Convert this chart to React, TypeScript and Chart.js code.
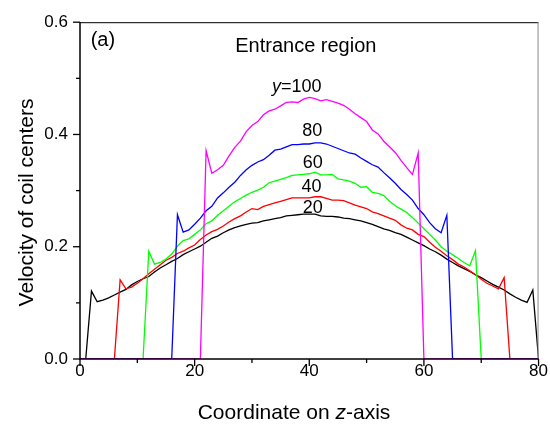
import { useEffect, useRef } from 'react';
import { Chart, registerables } from 'chart.js';

Chart.register(...registerables);

const FONT = '"Liberation Sans", Arial, Helvetica, sans-serif';

// Coordinate on the z-axis (sampling positions)
const Z = [
  0, 1, 2, 3, 4, 5, 6, 7, 8, 9,
  10, 11, 12, 13, 14, 15, 16, 17, 18, 19,
  20, 21, 22, 23, 24, 25, 26, 27, 28, 29,
  30, 31, 32, 33, 34, 35, 36, 37, 38, 39,
  40, 41, 42, 43, 44, 45, 46, 47, 48, 49,
  50, 51, 52, 53, 54, 55, 56, 57, 58, 59,
  60, 61, 62, 63, 64, 65, 66, 67, 68, 69,
  70, 71, 72, 73, 74, 75, 76, 77, 78, 79,
  80,
];

// Velocity of coil centers for each channel position y
const V_Y20 = [
  0, 0, 0.121, 0.102, 0.105, 0.109, 0.114, 0.119, 0.124, 0.132,
  0.138, 0.143, 0.147, 0.155, 0.162, 0.168, 0.174, 0.179, 0.186, 0.191,
  0.196, 0.201, 0.208, 0.215, 0.219, 0.225, 0.230, 0.234, 0.237, 0.240,
  0.242, 0.243, 0.246, 0.248, 0.250, 0.252, 0.255, 0.256, 0.257, 0.258,
  0.258, 0.258, 0.255, 0.254, 0.254, 0.253, 0.251, 0.250, 0.248, 0.246,
  0.243, 0.240, 0.236, 0.232, 0.229, 0.225, 0.222, 0.217, 0.212, 0.207,
  0.202, 0.196, 0.191, 0.185, 0.178, 0.172, 0.166, 0.161, 0.156, 0.150,
  0.145, 0.139, 0.133, 0.128, 0.123, 0.116, 0.110, 0.105, 0.101, 0.123,
  0,
];

const V_Y40 = [
  0, 0, 0, 0, 0, 0, 0, 0.141, 0.125, 0.128,
  0.135, 0.143, 0.152, 0.160, 0.168, 0.176, 0.181, 0.188, 0.192, 0.198,
  0.203, 0.213, 0.221, 0.227, 0.231, 0.237, 0.244, 0.250, 0.255, 0.262,
  0.268, 0.266, 0.272, 0.275, 0.278, 0.281, 0.284, 0.287, 0.287, 0.287,
  0.287, 0.289, 0.289, 0.286, 0.283, 0.283, 0.282, 0.278, 0.274, 0.271,
  0.268, 0.262, 0.259, 0.255, 0.251, 0.247, 0.239, 0.233, 0.230, 0.222,
  0.218, 0.208, 0.199, 0.192, 0.184, 0.177, 0.169, 0.164, 0.157, 0.150,
  0.142, 0.135, 0.130, 0.125, 0.145, 0, 0, 0, 0, 0,
  0,
];

const V_Y60 = [
  0, 0, 0, 0, 0, 0, 0, 0, 0, 0,
  0, 0, 0.192, 0.169, 0.172, 0.178, 0.187, 0.201, 0.211, 0.214,
  0.222, 0.230, 0.241, 0.246, 0.256, 0.264, 0.272, 0.280, 0.286, 0.292,
  0.297, 0.301, 0.306, 0.314, 0.317, 0.320, 0.323, 0.327, 0.328, 0.329,
  0.330, 0.333, 0.328, 0.328, 0.329, 0.321, 0.319, 0.317, 0.313, 0.306,
  0.307, 0.297, 0.295, 0.291, 0.281, 0.273, 0.267, 0.261, 0.252, 0.242,
  0.232, 0.222, 0.212, 0.200, 0.192, 0.186, 0.179, 0.172, 0.166, 0.193,
  0, 0, 0, 0, 0, 0, 0, 0, 0, 0,
  0,
];

const V_Y80 = [
  0, 0, 0, 0, 0, 0, 0, 0, 0, 0,
  0, 0, 0, 0, 0, 0, 0, 0.257, 0.226, 0.230,
  0.240, 0.251, 0.264, 0.272, 0.287, 0.296, 0.306, 0.315, 0.327, 0.337,
  0.345, 0.351, 0.355, 0.363, 0.372, 0.374, 0.378, 0.382, 0.382, 0.383,
  0.383, 0.385, 0.385, 0.383, 0.379, 0.375, 0.371, 0.367, 0.365, 0.358,
  0.352, 0.346, 0.342, 0.332, 0.323, 0.313, 0.302, 0.293, 0.283, 0.268,
  0.257, 0.243, 0.232, 0.225, 0.256, 0, 0, 0, 0, 0,
  0, 0, 0, 0, 0, 0, 0, 0, 0, 0,
  0,
];

const V_Y100 = [
  0, 0, 0, 0, 0, 0, 0, 0, 0, 0,
  0, 0, 0, 0, 0, 0, 0, 0, 0, 0,
  0, 0, 0.371, 0.331, 0.337, 0.345, 0.362, 0.377, 0.388, 0.405,
  0.416, 0.423, 0.435, 0.442, 0.445, 0.451, 0.457, 0.458, 0.457, 0.463,
  0.466, 0.464, 0.460, 0.462, 0.459, 0.456, 0.452, 0.445, 0.437, 0.430,
  0.423, 0.408, 0.401, 0.388, 0.378, 0.368, 0.354, 0.341, 0.329, 0.367,
  0, 0, 0, 0, 0, 0, 0, 0, 0, 0,
  0, 0, 0, 0, 0, 0, 0, 0, 0, 0,
  0,
];

const SERIES_NAMES = ['y=20', 'y=40', 'y=60', 'y=80', 'y=100'];
const SERIES_VALUES = [V_Y20, V_Y40, V_Y60, V_Y80, V_Y100];
const SERIES_COLORS = ['#000000', '#ff0000', '#00ff00', '#0000ff', '#ff00ff'];

const X_MAJOR = [0, 20, 40, 60, 80];
const X_MINOR = [10, 30, 50, 70];
const Y_MAJOR = [0, 0.2, 0.4, 0.6];
const Y_MINOR = [0.1, 0.3, 0.5];

// Curve labels, anchored (baseline centre) in data coordinates
const CURVE_LABELS = [
  { prefix: 'y', text: '=100', z: 37.8, v: 0.476 },
  { prefix: '', text: '80', z: 40.5, v: 0.398 },
  { prefix: '', text: '60', z: 40.6, v: 0.341 },
  { prefix: '', text: '40', z: 40.4, v: 0.297 },
  { prefix: '', text: '20', z: 40.6, v: 0.260 },
];

const PANEL_TAG = { text: '(a)', z: 1.86, v: 0.558 };
const PANEL_TITLE = { text: 'Entrance region', z: 39.4, v: 0.5465 };

// Frame, axes and tick marks, drawn over the curves
const frameAndTicks = {
  id: 'frameAndTicks',
  afterDatasetsDraw(chart: any) {
    const { ctx, chartArea: a, scales } = chart;
    const xs = scales.x;
    const ys = scales.y;
    ctx.save();
    ctx.lineWidth = 1;
    ctx.strokeStyle = '#000';
    ctx.beginPath();
    ctx.moveTo(a.left, a.top + 0.5);
    ctx.lineTo(a.right, a.top + 0.5);
    ctx.stroke();
    ctx.strokeStyle = '#8a8a8a';
    ctx.beginPath();
    ctx.moveTo(a.right - 0.5, a.top);
    ctx.lineTo(a.right - 0.5, a.bottom);
    ctx.stroke();
    ctx.strokeStyle = '#000';
    ctx.lineWidth = 1.5;
    ctx.beginPath();
    ctx.moveTo(a.left, a.top);
    ctx.lineTo(a.left, a.bottom);
    ctx.lineTo(a.right, a.bottom);
    ctx.stroke();
    ctx.lineWidth = 1.3;
    const tick = (x1: number, y1: number, x2: number, y2: number) => {
      ctx.beginPath();
      ctx.moveTo(x1, y1);
      ctx.lineTo(x2, y2);
      ctx.stroke();
    };
    X_MAJOR.forEach((v) => {
      const p = xs.getPixelForValue(v);
      tick(p, a.bottom, p, a.bottom + 7);
    });
    X_MINOR.forEach((v) => {
      const p = xs.getPixelForValue(v);
      tick(p, a.bottom, p, a.bottom + 4);
    });
    Y_MAJOR.forEach((v) => {
      const p = ys.getPixelForValue(v);
      tick(a.left, p, a.left - 7, p);
    });
    Y_MINOR.forEach((v) => {
      const p = ys.getPixelForValue(v);
      tick(a.left, p, a.left - 4, p);
    });
    ctx.restore();
  },
};

const textLayer = {
  id: 'textLayer',
  afterDatasetsDraw(chart: any) {
    const { ctx, scales } = chart;
    const xs = scales.x;
    const ys = scales.y;
    ctx.save();
    ctx.fillStyle = '#000';
    ctx.textBaseline = 'alphabetic';

    CURVE_LABELS.forEach((l) => {
      const cx = xs.getPixelForValue(l.z);
      const by = ys.getPixelForValue(l.v);
      ctx.font = `italic 18px ${FONT}`;
      const wp = l.prefix ? ctx.measureText(l.prefix).width : 0;
      ctx.font = `18px ${FONT}`;
      const wt = ctx.measureText(l.text).width;
      let x0 = cx - (wp + wt) / 2;
      ctx.textAlign = 'left';
      if (l.prefix) {
        ctx.font = `italic 18px ${FONT}`;
        ctx.fillText(l.prefix, x0, by);
        x0 += wp;
      }
      ctx.font = `18px ${FONT}`;
      ctx.fillText(l.text, x0, by);
    });

    ctx.font = `20px ${FONT}`;
    ctx.textAlign = 'left';
    ctx.fillText(PANEL_TAG.text, xs.getPixelForValue(PANEL_TAG.z), ys.getPixelForValue(PANEL_TAG.v));
    ctx.textAlign = 'center';
    ctx.fillText(PANEL_TITLE.text, xs.getPixelForValue(PANEL_TITLE.z), ys.getPixelForValue(PANEL_TITLE.v));

    // x-axis title with italic z
    const parts = [
      { t: 'Coordinate on ', italic: false },
      { t: 'z', italic: true },
      { t: '-axis', italic: false },
    ];
    let total = 0;
    const widths = parts.map((p) => {
      ctx.font = `${p.italic ? 'italic ' : ''}21px ${FONT}`;
      const w = ctx.measureText(p.t).width;
      total += w;
      return w;
    });
    let x = 294 - total / 2;
    ctx.textAlign = 'left';
    parts.forEach((p, i) => {
      ctx.font = `${p.italic ? 'italic ' : ''}21px ${FONT}`;
      ctx.fillText(p.t, x, 419);
      x += widths[i];
    });

    // y-axis title
    ctx.translate(33, 202.5);
    ctx.rotate(-Math.PI / 2);
    ctx.textAlign = 'center';
    ctx.font = `21px ${FONT}`;
    ctx.fillText('Velocity of coil centers', 0, 0);
    ctx.restore();
  },
};

export default function App() {
  const ref = useRef<HTMLCanvasElement>(null);

  useEffect(() => {
    if (!ref.current) return;
    const datasets = SERIES_VALUES.map((vals, i) => ({
      label: SERIES_NAMES[i],
      data: Z.map((z, k) => ({ x: z, y: vals[k] })),
      borderColor: SERIES_COLORS[i],
      backgroundColor: SERIES_COLORS[i],
      borderWidth: 1.3,
      pointRadius: 0,
      tension: 0,
      fill: false,
      order: SERIES_VALUES.length - 1 - i,
    }));

    const chart = new Chart(ref.current, {
      type: 'line',
      data: { datasets },
      options: {
        animation: false,
        responsive: false,
        devicePixelRatio: 1,
        layout: { padding: { left: 0, right: 11, top: 19, bottom: 0 } },
        plugins: {
          legend: { display: false },
          tooltip: { enabled: false },
          title: { display: false },
        },
        scales: {
          x: {
            type: 'linear',
            min: 0,
            max: 80,
            grid: { display: false, drawTicks: false },
            border: { display: false },
            ticks: {
              stepSize: 20,
              padding: 2,
              color: '#000',
              font: { family: FONT, size: 17 },
              maxRotation: 0,
            },
            afterFit: (s: any) => {
              s.height = 66;
            },
          },
          y: {
            type: 'linear',
            min: 0,
            max: 0.6,
            grid: { display: false, drawTicks: false },
            border: { display: false },
            ticks: {
              stepSize: 0.2,
              padding: 12,
              color: '#000',
              font: { family: FONT, size: 17 },
              callback: (v: any) => Number(v).toFixed(1),
            },
            afterFit: (s: any) => {
              s.width = 80;
            },
          },
        },
      },
      plugins: [frameAndTicks, textLayer],
    });
    return () => chart.destroy();
  }, []);

  return (
    <div style={{ position: 'fixed', left: 0, top: 0, width: 550, height: 425, background: '#fff' }}>
      <canvas ref={ref} width={550} height={425} style={{ display: 'block', width: 550, height: 425 }} />
    </div>
  );
}
